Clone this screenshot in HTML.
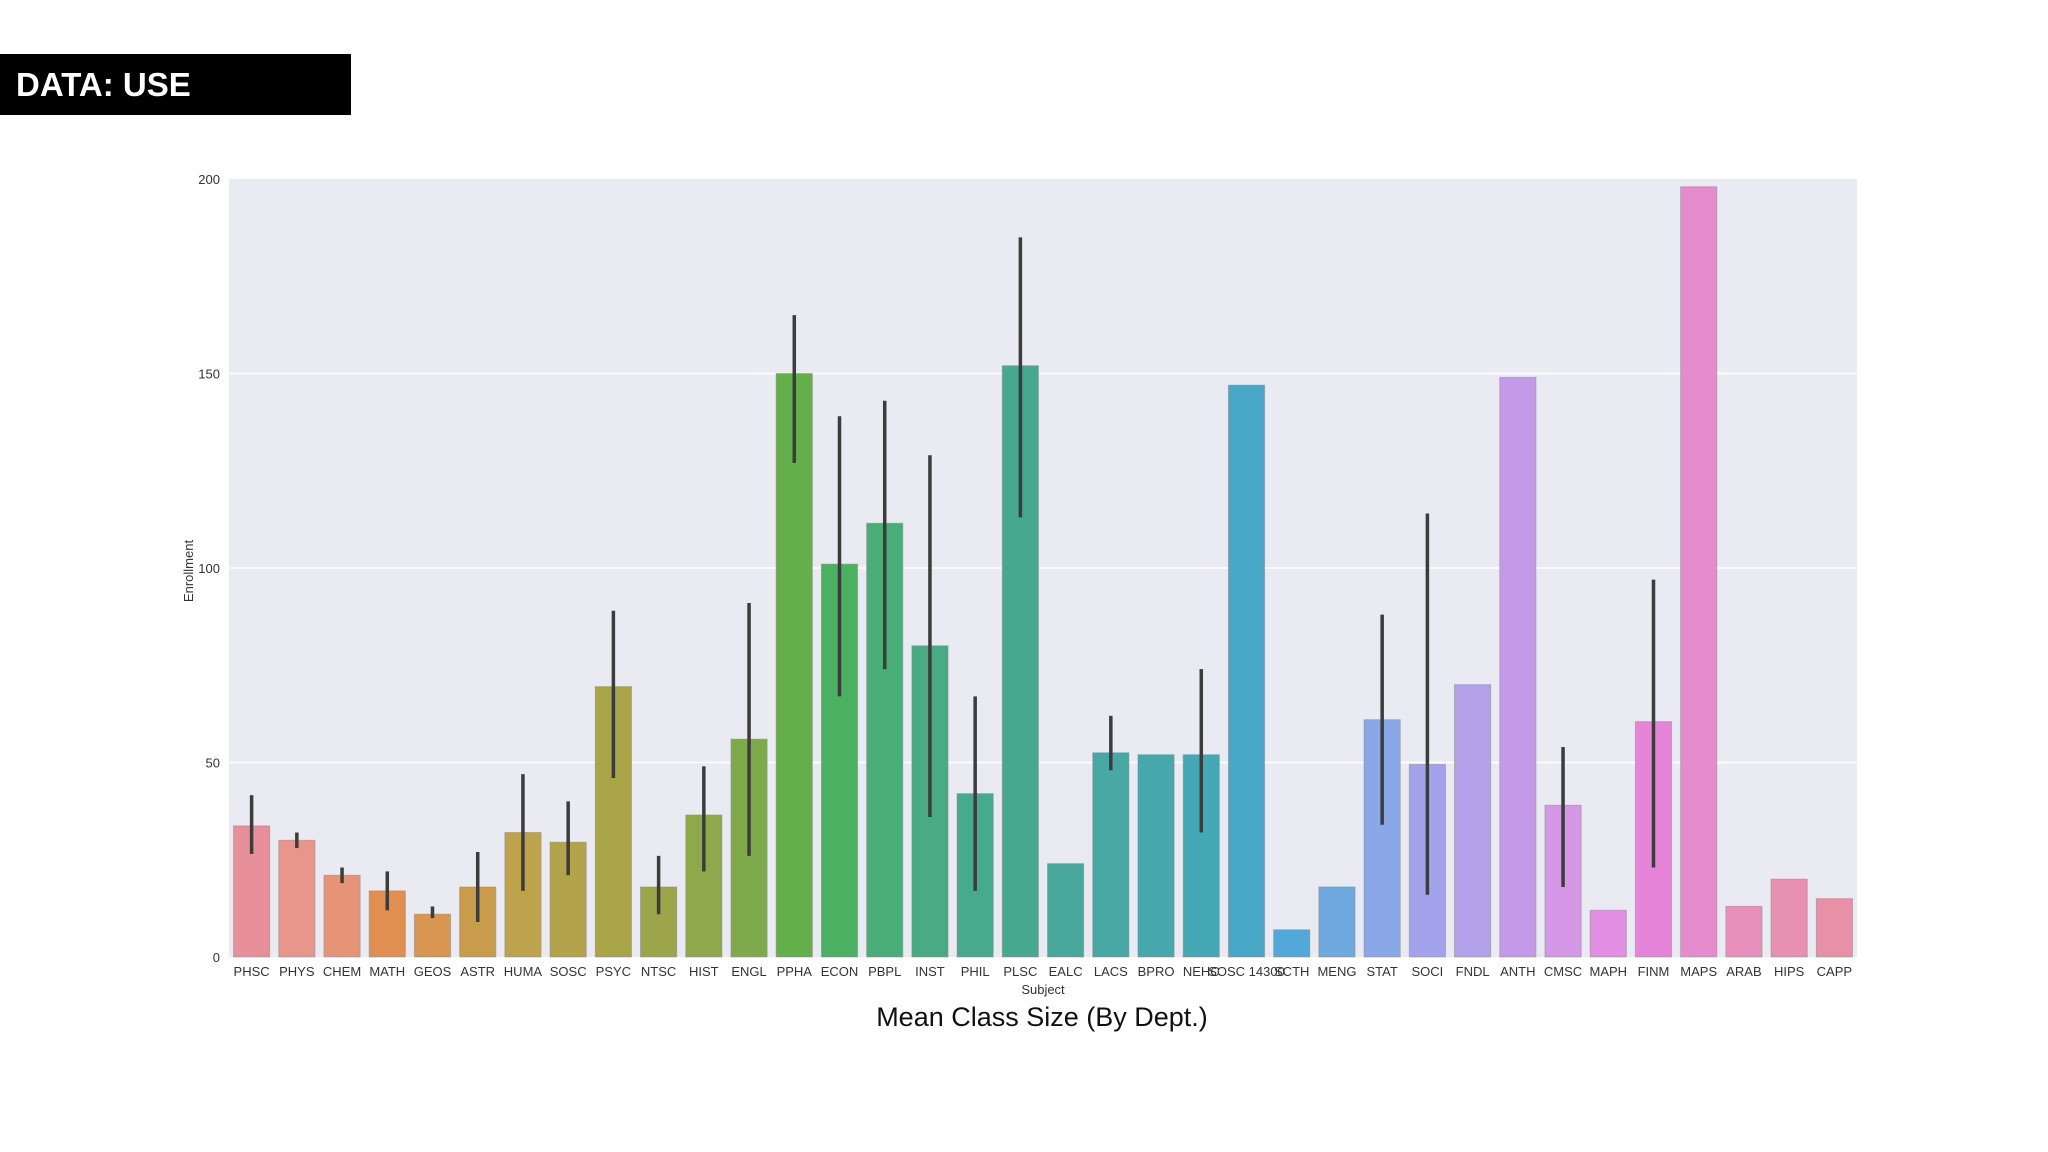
<!DOCTYPE html>
<html><head><meta charset="utf-8"><style>
html,body{margin:0;padding:0;background:#fff;width:2048px;height:1152px;overflow:hidden;font-family:"Liberation Sans",sans-serif}
#hdr{position:absolute;left:0;top:54px;width:351px;height:61px;background:#000;color:#fff;font-weight:bold;font-size:33px;line-height:61px;padding-left:16px;box-sizing:border-box}
#title{position:absolute;left:0;width:2084px;top:1002px;text-align:center;font-size:27px;color:#111}
svg{position:absolute;left:0;top:0}
</style></head><body>
<div id="hdr">DATA: USE</div>
<svg id="chart" width="2048" height="1152"></svg>
<div id="title">Mean Class Size (By Dept.)</div>
<script>
const categories=["PHSC","PHYS","CHEM","MATH","GEOS","ASTR","HUMA","SOSC","PSYC","NTSC","HIST","ENGL","PPHA","ECON","PBPL","INST","PHIL","PLSC","EALC","LACS","BPRO","NEHC","SOSC 14300","SCTH","MENG","STAT","SOCI","FNDL","ANTH","CMSC","MAPH","FINM","MAPS","ARAB","HIPS","CAPP"];
const means=[33.7,30,21,17,11,18,32,29.5,69.5,18,36.5,56,150,101,111.5,80,42,152,24,52.5,52,52,147,7,18,61,49.5,70,149,39,12,60.5,198,13,20,15];
const errLow=[26.5,28,19,12,10,9,17,21,46,11,22,26,127,67,74,36,17,113,null,48,null,32,null,null,null,34,16,null,null,18,null,23,null,null,null,null];
const errHigh=[41.6,32,23,22,13,27,47,40,89,26,49,91,165,139,143,129,67,185,null,62,null,74,null,null,null,88,114,null,null,54,null,97,null,null,null,null];
const yTicks=[0,50,100,150,200];
const colors=["#e8909a","#e8958c","#e69478","#e08f50","#d99653","#c99c4c","#bea34c","#b3a34a","#a9a448","#9ca54a","#8ea84c","#7eaa4c","#63b04a","#4cb063","#49ad78","#48ab84","#47aa8c","#47a890","#48a89c","#47a8a4","#46a8ac","#45a8b5","#49a8c8","#52a8d8","#6eaadf","#8aa8e8","#a3a3ec","#b3a1ea","#c49ae8","#d498e6","#e08fe2","#e684d9","#e68bcd","#e890bb","#e890b0","#e890a6"];
const NS="http://www.w3.org/2000/svg";
const svg=document.getElementById('chart');
const L=229,R=1857,T=179,B=957,YMAX=200;
const band=(R-L)/categories.length;
const y=v=>B-(v/YMAX)*(B-T);
const x=i=>L+band*i;
function mk(t,a){const e=document.createElementNS(NS,t);for(const k in a)e.setAttribute(k,a[k]);svg.appendChild(e);return e;}
let bg=mk('rect',{x:L,y:T,width:R-L,height:B-T,fill:'#eaeaf2'});


yTicks.forEach(t=>{
  if(t>0&&t<YMAX){let g=mk('line',{x1:L,x2:R,y1:y(t),y2:y(t),stroke:'#fff','stroke-width':1.5});
  
  }
  let tl=mk('text',{x:220,y:y(t)+5,'text-anchor':'end','font-size':13,fill:'#333','font-family':'Liberation Sans, sans-serif'});
  tl.textContent=t;
  
  
});
categories.forEach((c,i)=>{
  const bw=band*0.8,bx=x(i)+band*0.1;
  let r=mk('rect',{x:bx,y:y(means[i]),width:bw,height:B-y(means[i]),fill:colors[i],stroke:'#888','stroke-width':1,'stroke-opacity':0.5});
  
  
  if(errLow[i]!==null){
    let e=mk('line',{x1:x(i)+band/2,x2:x(i)+band/2,y1:y(errLow[i]),y2:y(errHigh[i]),stroke:'#3c3c3c','stroke-width':3.5});
    
    
  }
  let tl=mk('text',{x:x(i)+band/2,y:976,'text-anchor':'middle','font-size':13,fill:'#333','font-family':'Liberation Sans, sans-serif'});
  tl.textContent=c;
  
  
});
let xt=mk('text',{x:(L+R)/2,y:994,'text-anchor':'middle','font-size':13,fill:'#333','font-family':'Liberation Sans, sans-serif'});
xt.textContent='Subject';


let yt=mk('text',{x:0,y:0,'text-anchor':'middle','font-size':13,fill:'#333','font-family':'Liberation Sans, sans-serif',transform:'translate(193,571) rotate(-90)'});
yt.textContent='Enrollment';


</script>
</body></html>
